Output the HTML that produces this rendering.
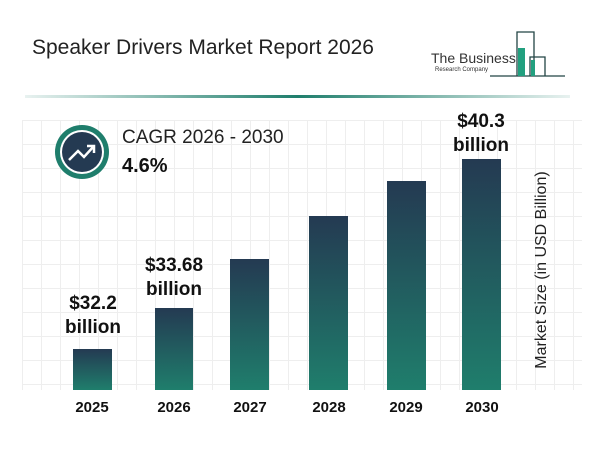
<!DOCTYPE html>
<html><head><style>
body{margin:0;width:600px;height:450px;background:#fff;overflow:hidden;position:relative;font-family:"Liberation Sans",sans-serif;}
.a{position:absolute}
.bar{position:absolute;background:linear-gradient(#243a52,#1f7e6c);}
.lbl{position:absolute;font-weight:bold;font-size:19px;color:#111;text-align:center;line-height:24px;width:100px}
.yr{position:absolute;top:399px;font-weight:bold;font-size:15px;color:#111;width:60px;text-align:center}
</style></head><body>
<div class="a" style="left:22px;top:120px;width:560px;height:270px;background-image:linear-gradient(#eee 1px,transparent 1px),linear-gradient(90deg,#eee 1px,transparent 1px);background-size:19px 24px;"></div>
<div class="a" style="left:32px;top:36px;font-size:21px;color:#222">Speaker Drivers Market Report 2026</div>
<svg class="a" style="left:0;top:0" width="600" height="90">
<text x="431" y="63" font-size="14" fill="#333" font-family="Liberation Sans">The Business</text>
<text x="435" y="71" font-size="6" fill="#333" font-family="Liberation Sans">Research Company</text>
<path d="M490 76H565M517 76V32H534V76M530 76V57H545V76" stroke="#244" stroke-width="1.3" fill="none"/>
<rect x="518" y="48" width="7" height="28" fill="#22a07f"/><rect x="531" y="60" width="4" height="16" fill="#22a07f"/>
</svg>
<div class="a" style="left:25px;top:95px;width:545px;height:3px;background:linear-gradient(90deg,rgba(31,126,108,0.1),#1f7e6c 50%,rgba(31,126,108,0.1))"></div>
<svg class="a" style="left:53px;top:122px" width="60" height="60">
<circle cx="29" cy="30" r="27" fill="#1f7e6c"/><circle cx="29" cy="30" r="22" fill="#fff"/><circle cx="29" cy="30" r="20" fill="#243a52"/>
<path d="M16 38L25 29L31 35L41 24M34 24H41V31" stroke="#fff" stroke-width="2.5" fill="none"/>
</svg>
<div class="a" style="left:122px;top:127px;font-size:19px;color:#222">CAGR 2026 - 2030</div>
<div class="a" style="left:122px;top:155px;font-size:20px;font-weight:bold;color:#111">4.6%</div>
<div class="bar" style="left:73px;top:349px;width:39px;height:41px"></div>
<div class="bar" style="left:155px;top:308px;width:38px;height:82px"></div>
<div class="bar" style="left:230px;top:259px;width:39px;height:131px"></div>
<div class="bar" style="left:309px;top:216px;width:39px;height:174px"></div>
<div class="bar" style="left:387px;top:181px;width:39px;height:209px"></div>
<div class="bar" style="left:462px;top:159px;width:39px;height:231px"></div>
<div class="lbl" style="left:43px;top:292px">$32.2<br>billion</div>
<div class="lbl" style="left:124px;top:254px">$33.68<br>billion</div>
<div class="lbl" style="left:431px;top:110px">$40.3<br>billion</div>
<div class="yr" style="left:62px">2025</div><div class="yr" style="left:144px">2026</div><div class="yr" style="left:220px">2027</div><div class="yr" style="left:299px">2028</div><div class="yr" style="left:376px">2029</div><div class="yr" style="left:452px">2030</div>
<div class="a" style="left:542px;top:270px;transform:translate(-50%,-50%) rotate(-90deg);white-space:nowrap;font-size:16px;color:#222">Market Size (in USD Billion)</div>
</body></html>
